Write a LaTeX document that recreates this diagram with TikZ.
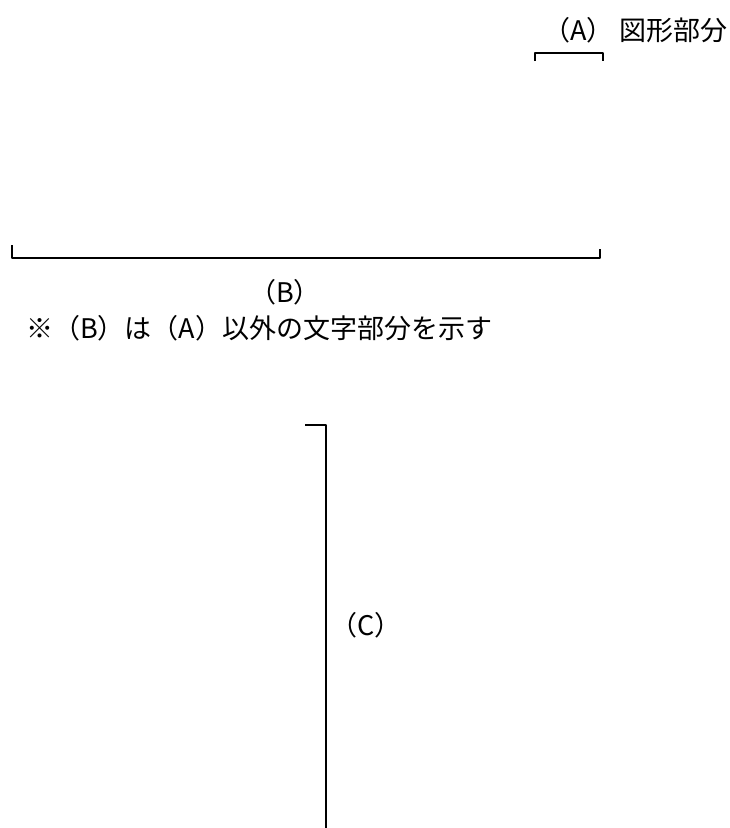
\documentclass[tikz,border=0pt]{standalone}
\usepackage{fontspec}
\setmainfont{Noto Sans CJK JP}
\tikzset{
  brk/.style={line width=1.6pt, line join=round},
  lbl/.style={inner sep=0pt, font=\fontsize{27}{30}\selectfont}
}
\begin{document}
\begin{tikzpicture}[x=1pt,y=-1pt]
\path[use as bounding box] (0,0) rectangle (729,828);
% (A)
\node[lbl, anchor=east] (ta) at (728,30) {（A）\hspace{6pt}図形部分};
\coordinate (a1) at (535,61);
\coordinate (a2) at (603,61);
\draw[brk] (a1) -- ++(0,-8) -| (a2);
% (B)
\coordinate (b1) at (12,245);
\coordinate (b2) at (600,249);
\draw[brk] (b1) |- (600,258) -- (b2);
\node[lbl] (tb) at (285,292) {（B）};
\node[lbl, anchor=west] (note) at (26,328) {※（B）は（A）以外の文字部分を示す};
% (C)
\coordinate (c1) at (305,425);
\coordinate (c2) at (326,828);
\draw[brk] (c1) -- (326,425) -- (c2);
\node[lbl, anchor=west] (tc) at (330,625) {（C）};
\end{tikzpicture}
\end{document}
